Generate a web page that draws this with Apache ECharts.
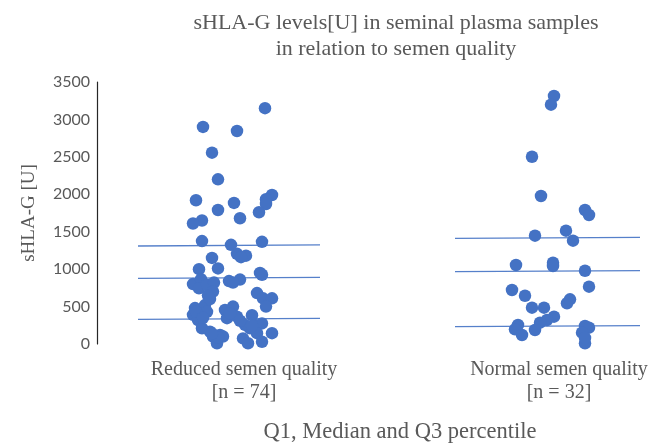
<!DOCTYPE html>
<html>
<head>
<meta charset="utf-8">
<script src="https://cdn.jsdelivr.net/npm/echarts@6/dist/echarts.min.js"></script>
<style>
html,body{margin:0;padding:0;background:#fff;}
#chart{width:652px;height:443px;}
</style>
</head>
<body>
<div id="chart"></div>
<script>
// ---- data ----
const categories = ['Reduced semen quality\n[n = 74]', 'Normal semen quality\n[n = 32]'];
const yTicks = [0, 500, 1000, 1500, 2000, 2500, 3000, 3500];

// sHLA-G values [U]
const reducedValues = [3150,2900,2845,2556,2200,1920,1790,1885,1990,1935,1870,1760,1680,1650,1610,1375,1325,1365,1150,1205,1180,1160,1010,1000,950,925,840,860,820,800,865,745,790,820,700,650,680,610,610,500,480,390,390,520,430,320,455,500,345,365,410,385,255,210,255,275,145,145,210,165,100,120,10,100,75,10,30,430,600,350,310,240,90,140];
// horizontal jitter of each point around its group centre
const reducedJitter = [32,-30,4,-21,-15,-37,-15,1,39,33,33,26,7,-31,-40,-31,-2,29,-21,4,13,8,-15,-34,27,29,-4,7,0,-40,-32,-34,-26,-19,-20,-25,24,30,39,33,-38,-40,-33,-28,-26,-35,-8,0,-6,4,-3,19,12,17,22,29,24,39,-31,-23,-20,-13,-16,-10,10,15,29,-37,-23,-30,7,19,-15,-21];

const normalValues = [3313,3197,2502,1977,1790,1723,1447,1514,1380,1055,1086,1042,979,721,645,766,485,485,544,597,365,321,285,187,254,196,120,241,218,151,9,80];
const normalJitter = [4,1,-18,-9,35,39,-15,16,23,-34,3,3,35,-38,-25,39,-18,-6,17,20,4,-3,-10,-15,-32,-35,-28,35,39,32,35,35];

// Q1, median, Q3 (left end, right end of each drawn line)
const reducedQuartiles = [[330,343],[878,891],[1309,1323]];
const normalQuartiles = [[231,245],[966,979],[1412,1425]];

// ---- layout ----
const groupCentre = [136, 453];
const labelPos = [147, 462];
const lineSpan = [[41, 223], [358, 543]];
const blue = '#4472C4';

function pts(values, jitter, c) {
  return values.map((v, i) => [c + jitter[i], v]);
}
function quartileSeries(q, span) {
  return q.map(pair => ({
    type: 'line', data: [[span[0], pair[0]], [span[1], pair[1]]],
    symbol: 'none', silent: true, z: 1,
    lineStyle: { color: blue, width: 1.3, opacity: 0.9 }
  }));
}

const chart = echarts.init(document.getElementById('chart'), null, {renderer: 'canvas'});
chart.setOption({
  animation: false,
  backgroundColor: '#fff',
  title: {
    text: 'sHLA-G levels[U] in seminal plasma samples\nin relation to semen quality',
    left: 391, top: 5, textAlign: 'center',
    textStyle: { fontFamily: 'Liberation Serif', fontSize: 22, fontWeight: 'normal', color: '#595959', lineHeight: 26 }
  },
  grid: { left: 97, right: 7, top: 82, bottom: 99, outerBoundsMode: 'none', containLabel: false },
  xAxis: {
    type: 'value', min: 0, max: 548,
    name: 'Q1, Median and Q3 percentile', nameLocation: 'middle', nameGap: 77,
    nameTextStyle: { fontFamily: 'Liberation Serif', fontSize: 22.5, color: '#595959', padding: [0, 0, 0, 58] },
    axisLine: { show: false }, axisTick: { show: false }, splitLine: { show: false },
    axisLabel: {
      customValues: labelPos,
      formatter: v => categories[labelPos.indexOf(v)] || '',
      fontFamily: 'Liberation Serif', fontSize: 20, color: '#595959', lineHeight: 23, margin: 14
    }
  },
  yAxis: {
    type: 'value', min: 0, max: 3500, interval: 500,
    name: 'sHLA-G [U]', nameLocation: 'middle', nameGap: 58,
    nameTextStyle: { fontFamily: 'Liberation Serif', fontSize: 19, color: '#595959' },
    axisLine: { show: true, lineStyle: { color: '#262626', width: 1.2 } },
    axisTick: { show: false }, splitLine: { show: false },
    axisLabel: {
      formatter: v => yTicks.includes(v) ? String(v) : '',
      fontFamily: 'Lato', fontSize: 16, color: '#595959', margin: 7
    }
  },
  series: [
    ...quartileSeries(reducedQuartiles, lineSpan[0]),
    ...quartileSeries(normalQuartiles, lineSpan[1]),
    { type: 'scatter', data: pts(reducedValues, reducedJitter, groupCentre[0]), symbolSize: 12.5, itemStyle: { color: blue, opacity: 1 }, z: 3 },
    { type: 'scatter', data: pts(normalValues, normalJitter, groupCentre[1]), symbolSize: 12.5, itemStyle: { color: blue, opacity: 1 }, z: 3 }
  ]
});
</script>
</body>
</html>
